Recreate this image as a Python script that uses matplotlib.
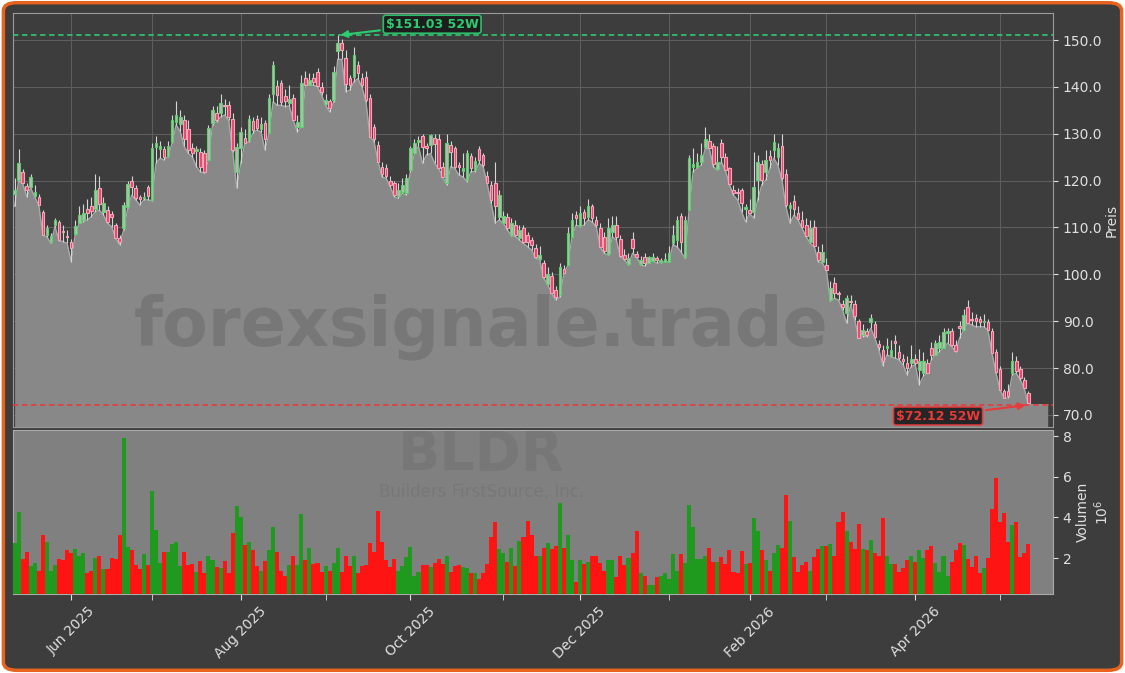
import numpy as np
import pandas as pd
import matplotlib
matplotlib.use('Agg')
import matplotlib.pyplot as plt
from matplotlib.patches import FancyBboxPatch
from matplotlib.ticker import FixedLocator, NullFormatter, FixedFormatter, FuncFormatter

# --- Daten: BLDR, Tageskerzen ---
start = '2025-05-12'
holidays = ['2025-05-26', '2025-06-19', '2025-07-04', '2025-09-01', '2025-11-27',
            '2025-12-25', '2026-01-01', '2026-01-19', '2026-02-16', '2026-04-03']

opens = [
    117.1, 120.1, 121.9, 118.9, 118.7, 116.7, 116.6, 113.3, 108.3, 106.8,
    110.5, 111.2, 109.3, 108.2, 107.0, 108.6, 111.0, 111.5, 114.0, 114.5,
    114.0, 118.5, 113.4, 113.7, 112.8, 110.5, 107.8, 109.9, 114.4, 119.9,
    118.4, 116.5, 116.2, 118.6, 115.9, 127.2, 126.8, 126.7, 125.2, 128.3,
    132.5, 132.0, 133.0, 131.0, 127.0, 126.3, 126.2, 125.8, 124.4, 132.4,
    134.5, 134.5, 136.2, 136.1, 133.1, 121.9, 126.9, 129.2, 128.7, 132.8,
    133.1, 131.0, 132.4, 130.2, 138.6, 140.2, 140.8, 138.0, 136.5, 137.6,
    131.5, 131.5, 142.0, 140.5, 142.0, 143.1, 140.0, 136.4, 137.0, 137.3,
    147.7, 149.4, 146.2, 142.0, 142.2, 144.8, 142.0, 142.2, 137.6, 131.4,
    127.6, 123.0, 122.8, 120.0, 119.4, 116.8, 117.5, 117.3, 122.3, 125.8,
    128.3, 129.5, 127.5, 127.6, 129.2, 128.9, 123.0, 119.4, 127.6, 127.0,
    123.4, 122.0, 120.1, 125.3, 122.3, 126.7, 125.5, 121.0, 119.1, 119.6,
    112.3, 111.0, 112.2, 108.5, 110.5, 107.7, 109.8, 108.4, 107.3, 105.6,
    103.2, 102.5, 98.0, 99.7, 96.7, 95.6, 101.1, 102.0, 108.0, 112.7,
    110.3, 113.4, 112.3, 114.5, 111.5, 109.8, 108.0, 104.3, 109.0, 110.5,
    107.5, 104.1, 102.2, 107.5, 104.3, 102.2, 103.6, 102.5, 102.9, 103.5,
    102.6, 102.7, 102.7, 106.6, 107.3, 112.5, 103.8, 113.7, 123.0, 123.0,
    124.0, 127.2, 128.5, 127.5, 122.5, 128.0, 125.1, 122.6, 118.1, 117.5,
    117.9, 114.0, 113.7, 113.4, 120.1, 123.5, 121.9, 125.3, 126.5, 125.0,
    127.5, 121.4, 114.1, 115.7, 113.0, 111.5, 110.5, 106.8, 110.2, 104.8,
    102.6, 102.0, 94.5, 98.1, 96.0, 93.7, 91.7, 94.2, 93.7, 90.1,
    87.1, 88.0, 89.9, 89.4, 85.1, 83.9, 84.2, 82.6, 85.7, 83.5,
    82.0, 81.0, 81.0, 82.0, 79.5, 79.0, 81.0, 84.2, 82.8, 84.2,
    84.2, 87.5, 87.8, 84.9, 89.0, 88.1, 93.0, 90.5, 90.6, 90.4,
    89.8, 89.9, 88.0, 83.5, 79.7, 75.0, 75.0, 78.9, 81.4, 79.7,
    77.5, 74.6]

highs = [
    120.5, 126.7, 122.5, 119.5, 121.5, 119.0, 117.2, 113.8, 110.5, 108.8,
    112.0, 111.6, 110.5, 109.5, 107.5, 111.5, 114.5, 115.0, 116.0, 116.5,
    121.5, 121.0, 116.5, 114.5, 113.5, 111.0, 108.5, 115.5, 120.0, 121.0,
    119.0, 117.0, 117.5, 119.0, 128.0, 129.5, 128.5, 127.5, 128.5, 134.0,
    137.0, 135.0, 134.0, 133.0, 128.0, 127.5, 127.0, 126.5, 131.8, 136.0,
    136.0, 138.5, 137.5, 137.0, 134.5, 128.0, 131.5, 131.0, 134.0, 133.5,
    134.0, 133.5, 133.0, 138.5, 145.5, 141.5, 141.5, 139.5, 140.5, 138.5,
    134.0, 142.5, 143.5, 143.0, 143.0, 144.0, 141.0, 138.5, 137.5, 144.5,
    151.03, 150.2, 148.0, 142.5, 148.5, 145.5, 143.0, 143.5, 138.5, 132.0,
    128.5, 124.0, 123.5, 121.0, 120.0, 119.5, 120.5, 121.5, 127.5, 129.0,
    129.5, 130.0, 128.0, 130.0, 130.0, 130.0, 124.0, 130.0, 128.5, 127.5,
    124.0, 126.0, 126.5, 126.0, 125.0, 127.5, 126.0, 122.0, 120.0, 124.0,
    118.0, 113.5, 113.0, 112.0, 111.5, 110.5, 110.5, 109.0, 108.0, 106.5,
    106.0, 103.0, 101.5, 100.5, 97.5, 102.5, 102.0, 110.0, 113.0, 113.5,
    114.5, 114.0, 116.0, 115.0, 112.5, 111.0, 109.0, 112.0, 112.5, 112.5,
    108.5, 105.5, 104.5, 109.0, 105.0, 104.0, 104.5, 104.0, 104.5, 104.0,
    103.5, 104.5, 106.0, 110.5, 112.5, 113.0, 112.5, 125.5, 127.0, 126.0,
    128.0, 131.5, 130.0, 128.0, 127.5, 129.0, 126.0, 123.0, 119.0, 118.5,
    118.5, 115.0, 116.0, 126.2, 125.5, 124.5, 126.5, 126.5, 130.0, 128.0,
    130.0, 122.5, 115.5, 117.0, 114.5, 113.5, 112.0, 111.5, 111.5, 106.0,
    106.5, 103.5, 98.5, 99.5, 96.5, 94.5, 95.5, 95.5, 94.5, 90.5,
    89.5, 88.5, 91.5, 90.0, 86.0, 85.0, 86.5, 86.0, 87.0, 85.0,
    83.0, 82.5, 85.0, 83.0, 84.0, 83.5, 82.0, 85.5, 86.0, 87.0,
    88.5, 88.5, 88.5, 86.0, 90.0, 92.5, 94.5, 92.0, 91.5, 91.0,
    91.5, 90.5, 88.5, 84.0, 80.5, 75.5, 76.5, 83.5, 82.5, 80.5,
    78.0, 75.0]

lows = [
    114.5, 120.0, 119.4, 116.6, 118.4, 116.5, 114.7, 108.3, 108.0, 106.6,
    110.2, 107.2, 107.0, 106.6, 102.7, 108.4, 110.9, 111.2, 111.6, 112.3,
    113.4, 113.7, 112.7, 110.9, 110.2, 107.8, 106.3, 109.5, 114.1, 116.9,
    115.9, 114.8, 115.9, 115.9, 115.7, 123.7, 124.8, 124.4, 125.1, 128.0,
    131.9, 130.5, 127.3, 125.8, 125.1, 123.0, 121.9, 121.6, 124.4, 131.9,
    132.6, 133.6, 134.0, 132.9, 126.2, 118.4, 123.7, 128.0, 128.3, 130.1,
    130.8, 130.4, 126.5, 130.1, 136.8, 136.1, 136.1, 135.8, 136.0, 132.9,
    130.4, 131.5, 140.4, 140.4, 140.4, 140.0, 138.3, 136.1, 134.7, 136.8,
    145.9, 145.9, 139.0, 139.3, 141.1, 141.8, 140.0, 136.8, 129.4, 128.3,
    124.0, 120.8, 120.5, 118.7, 116.6, 116.2, 117.3, 116.9, 121.9, 125.8,
    127.3, 123.7, 125.5, 125.8, 123.7, 122.6, 120.8, 119.1, 123.0, 122.6,
    121.2, 120.8, 119.8, 121.9, 121.9, 123.7, 123.0, 119.4, 115.2, 110.9,
    111.6, 110.9, 109.5, 108.2, 108.1, 107.3, 106.6, 105.9, 105.2, 103.4,
    103.1, 99.2, 97.7, 96.0, 94.5, 95.2, 100.2, 101.9, 108.0, 110.5,
    110.2, 110.5, 111.6, 111.2, 110.2, 105.9, 104.5, 104.1, 108.0, 107.3,
    103.8, 103.1, 102.0, 104.5, 103.8, 102.0, 101.8, 102.4, 102.9, 102.4,
    102.5, 102.7, 102.7, 106.3, 105.9, 104.8, 103.4, 113.7, 121.9, 122.6,
    123.3, 126.9, 126.9, 123.0, 122.3, 124.0, 122.2, 119.1, 116.9, 115.9,
    113.4, 111.2, 113.0, 112.0, 115.9, 119.1, 120.1, 122.6, 124.8, 123.3,
    120.1, 114.4, 110.9, 112.7, 111.6, 109.8, 108.0, 106.6, 105.9, 102.7,
    102.4, 100.9, 94.2, 94.9, 94.5, 92.4, 89.6, 93.5, 90.3, 86.4,
    86.7, 86.7, 88.5, 86.4, 83.9, 80.5, 82.8, 82.4, 82.1, 81.7,
    80.7, 78.5, 80.3, 80.7, 76.4, 78.2, 78.9, 81.7, 82.8, 83.5,
    84.2, 85.3, 84.6, 83.5, 86.4, 88.1, 89.6, 89.2, 88.8, 88.8,
    88.8, 88.1, 83.2, 78.9, 75.3, 73.6, 73.6, 78.5, 78.9, 77.5,
    75.7, 72.12]

closes = [
    118.0, 123.8, 119.6, 118.0, 120.8, 117.6, 114.8, 108.4, 109.9, 108.2,
    111.6, 107.3, 109.0, 108.0, 105.6, 110.3, 112.7, 113.0, 113.0, 113.5,
    118.0, 115.0, 115.2, 111.2, 112.2, 107.8, 106.8, 114.8, 119.3, 118.7,
    116.3, 116.0, 116.6, 116.7, 127.0, 128.0, 127.3, 125.0, 127.4, 133.0,
    134.0, 133.5, 129.0, 126.5, 126.0, 126.8, 123.0, 121.9, 131.2, 135.1,
    133.0, 136.5, 135.9, 133.5, 126.5, 127.2, 130.3, 128.1, 133.1, 130.8,
    131.2, 132.2, 128.8, 137.6, 144.7, 138.3, 136.8, 137.0, 137.5, 132.9,
    132.5, 140.8, 140.5, 141.5, 141.0, 140.2, 139.0, 137.3, 135.5, 143.2,
    149.3, 148.0, 140.6, 140.5, 146.8, 142.9, 140.4, 137.2, 129.4, 129.0,
    124.0, 121.5, 121.0, 119.0, 117.0, 118.0, 119.0, 120.5, 126.9, 128.0,
    128.6, 127.2, 126.9, 129.7, 127.8, 122.6, 120.8, 128.1, 126.2, 123.0,
    123.0, 122.8, 125.8, 122.6, 124.3, 124.4, 123.3, 119.5, 115.9, 114.5,
    117.0, 112.5, 109.8, 111.0, 108.5, 109.5, 107.0, 106.8, 106.3, 103.8,
    104.2, 99.4, 100.0, 96.0, 95.1, 101.5, 100.3, 108.9, 111.7, 112.0,
    113.2, 112.0, 114.6, 112.0, 110.5, 105.9, 105.0, 109.8, 110.5, 108.0,
    104.0, 103.2, 103.4, 105.6, 103.8, 103.0, 102.5, 103.6, 103.7, 103.0,
    103.0, 103.3, 104.6, 108.4, 111.5, 107.0, 111.5, 124.8, 123.5, 124.0,
    125.5, 128.8, 127.0, 123.5, 124.0, 125.1, 122.3, 119.3, 117.3, 117.3,
    115.2, 114.4, 113.2, 118.6, 124.0, 120.1, 124.5, 124.4, 128.3, 126.9,
    120.5, 114.8, 114.7, 113.9, 111.8, 110.0, 108.2, 109.8, 106.0, 103.0,
    104.8, 101.0, 97.0, 96.0, 95.7, 93.1, 94.9, 94.0, 91.0, 86.5,
    88.1, 87.0, 90.6, 86.6, 84.4, 81.4, 84.8, 83.9, 85.4, 82.1,
    81.5, 80.0, 82.0, 81.0, 81.5, 81.5, 78.9, 82.8, 85.3, 85.6,
    87.6, 87.8, 84.9, 83.7, 88.5, 91.3, 89.7, 90.2, 90.0, 89.8,
    90.0, 88.1, 83.3, 79.2, 75.3, 73.6, 74.0, 81.4, 79.3, 77.9,
    75.7, 72.5]

# Volumen in Mio. Stueck
volume = [
    2.76, 4.28, 1.95, 2.29, 1.61, 1.78, 1.39, 3.13, 2.8, 1.39,
    1.64, 1.95, 1.9, 2.4, 2.25, 2.45, 2.12, 2.25, 1.28, 1.39,
    2.0, 2.1, 1.44, 1.44, 2.0, 1.95, 3.13, 7.89, 2.56, 2.4,
    1.64, 1.44, 2.2, 1.64, 5.29, 3.37, 1.75, 2.29, 2.29, 2.71,
    2.8, 1.61, 2.29, 1.64, 1.7, 1.33, 1.85, 1.25, 2.11, 1.9,
    1.58, 1.5, 1.85, 1.25, 3.22, 4.58, 4.0, 2.66, 2.8, 2.4,
    1.61, 1.39, 1.85, 2.4, 3.51, 2.29, 1.39, 1.12, 1.64, 2.1,
    1.64, 4.17, 1.9, 2.5, 1.7, 1.78, 1.33, 1.6, 1.39, 1.75,
    2.5, 1.34, 2.1, 1.6, 2.1, 1.25, 1.61, 1.64, 2.76, 2.29,
    4.34, 2.8, 1.9, 1.56, 1.95, 1.39, 1.61, 2.05, 2.56, 1.14,
    1.34, 1.64, 1.64, 1.56, 1.75, 1.95, 1.7, 2.1, 1.34, 1.6,
    1.64, 1.56, 1.5, 1.25, 1.25, 0.95, 1.25, 1.7, 3.05, 3.76,
    2.45, 2.23, 1.82, 2.5, 1.61, 2.84, 3.06, 3.82, 3.16, 2.1,
    2.1, 2.5, 2.76, 2.45, 2.61, 4.73, 2.5, 3.16, 1.9, 0.84,
    1.9, 1.7, 1.8, 2.1, 2.1, 1.75, 1.39, 1.9, 1.9, 1.05,
    2.1, 1.64, 2.0, 2.25, 3.33, 1.25, 1.1, 0.66, 0.7, 1.05,
    1.14, 1.25, 0.95, 2.2, 1.39, 2.2, 1.75, 4.63, 3.51, 1.95,
    1.95, 2.1, 2.5, 1.83, 1.83, 2.05, 1.7, 2.4, 1.34, 1.25,
    2.35, 1.7, 1.75, 3.97, 3.32, 2.4, 1.9, 1.39, 2.25, 2.66,
    2.5, 5.08, 3.82, 2.05, 1.34, 1.64, 1.83, 1.39, 2.05, 2.45,
    2.61, 2.61, 2.71, 2.1, 3.77, 4.28, 3.32, 2.81, 2.45, 3.67,
    2.45, 2.4, 2.91, 2.25, 2.1, 3.97, 2.1, 1.7, 1.7, 1.3,
    1.5, 1.9, 2.1, 1.8, 2.4, 2.0, 2.4, 2.61, 1.75, 1.34,
    2.1, 1.14, 1.8, 2.4, 2.76, 2.66, 1.95, 1.55, 2.1, 1.25,
    1.5, 2.0, 4.43, 5.95, 3.77, 4.23, 2.81, 3.62, 3.77, 2.05,
    2.25, 2.71]

o = np.array(opens)
h = np.array(highs)
l = np.array(lows)
c = np.array(closes)
n = len(c)
idx = np.arange(n)
dates = pd.bdate_range(start, periods=n, freq='C', holidays=holidays)

hi52 = h.max()
lo52 = l.min()
i_hi = int(h.argmax())
i_lo = int(l.argmin())

BG = '#3d3d3d'
up = c >= o

fig = plt.figure(figsize=(11.25, 6.73), dpi=100, facecolor='white')
frame = FancyBboxPatch((0.003, 0.004), 0.994, 0.992, boxstyle='round,pad=0,rounding_size=0.012',
                       transform=fig.transFigure, facecolor=BG, edgecolor='#e8641e', lw=2.5, zorder=-10)
fig.add_artist(frame)

ax = fig.add_axes([0.01156, 0.3655, 0.9244, 0.6152])
vax = fig.add_axes([0.01156, 0.1174, 0.9244, 0.2437], sharex=ax)

# --- Kurs ---
ax.set_facecolor(BG)
xf = np.append(idx, n - 1 + 4.8)
lf = np.append(l, l[-1])
ax.fill_between(xf, lf, 60, color='#888888', zorder=2, lw=0)
ax.plot(xf, lf, color='#a9a9a9', lw=1.0, zorder=2.5)

ax.vlines(idx, l, h, color='#d5d5d5', lw=0.8, zorder=3)
ax.bar(idx, np.abs(c - o), bottom=np.minimum(o, c), width=0.65,
       color=np.where(up, '#b8b8b8', '#e8456c'),
       edgecolor=np.where(up, '#5ccf6c', '#f2a6b8'), lw=0.8, zorder=4)

ax.axhline(hi52, color='#2ecc71', lw=1.3, dashes=(3, 2), alpha=0.9, zorder=5)
ax.axhline(lo52, color='#e83a3a', lw=1.3, dashes=(3, 2), alpha=0.9, zorder=5)

ax.annotate('\\$%.2f 52W' % hi52, xy=(i_hi, hi52), xytext=(68, 8), textcoords='offset points',
            ha='center', va='center', fontsize=9, fontweight='bold', color='#2ecc71',
            bbox=dict(boxstyle='round,pad=0.2', fc='#1a1a1a', ec='#2ecc71', lw=1.2, alpha=0.9),
            arrowprops=dict(arrowstyle='-|>', color='#2ecc71', lw=1.5, mutation_scale=10), zorder=6)
ax.annotate('\\$%.2f 52W' % lo52, xy=(i_lo, lo52), xytext=(-65, -8), textcoords='offset points',
            ha='center', va='center', fontsize=9, fontweight='bold', color='#e83a3a',
            bbox=dict(boxstyle='round,pad=0.2', fc='#1a1a1a', ec='#e83a3a', lw=1.2, alpha=0.9),
            arrowprops=dict(arrowstyle='-|>', color='#e83a3a', lw=1.5, mutation_scale=10), zorder=6)

ax.text(0.4505, 0.2415, 'forexsignale.trade', transform=ax.transAxes, ha='center', va='center',
        fontsize=48, fontweight='bold', color=BG, alpha=0.22, zorder=4.5)

ax.set_ylim(67.4, 155.8)
ax.set_xlim(-0.4, 257.1)
ax.set_yticks(np.arange(70, 151, 10))
ax.yaxis.set_major_formatter(FuncFormatter(lambda v, p: '%.1f' % v))
ax.yaxis.tick_right()
ax.yaxis.set_label_position('right')
ax.set_ylabel('Preis', color='#e0e0e0', fontsize=10, labelpad=2)
ax.grid(True, which='both', color='#5e5e5e', lw=0.8)
ax.tick_params(axis='y', colors='#e0e0e0', labelsize=10)
ax.tick_params(axis='x', which='both', bottom=False, labelbottom=False)
for s in ax.spines.values():
    s.set_color('#9a9a9a')

# --- Volumen ---
vax.set_facecolor('#808080')
vax.bar(idx, volume, width=1.0, color=np.where(up, '#1f9a1f', '#ff1414'), lw=0, zorder=3)
vax.text(0.4505, 0.85, 'BLDR', transform=vax.transAxes, ha='center', va='center',
         fontsize=40, fontweight='bold', color=BG, alpha=0.12, zorder=1)
vax.text(0.4505, 0.62, 'Builders FirstSource, Inc.', transform=vax.transAxes, ha='center', va='center',
         fontsize=12, color=BG, alpha=0.12, zorder=1)
vax.set_ylim(0.235, 8.3)
vax.set_yticks([2, 4, 6, 8])
vax.yaxis.tick_right()
vax.yaxis.set_label_position('right')
vax.set_ylabel('Volumen\n$10^{6}$', color='#e0e0e0', fontsize=10, labelpad=3)
vax.tick_params(axis='y', colors='#e0e0e0', labelsize=10)
for s in vax.spines.values():
    s.set_color('#aaaaaa')

# Monatsticks: erster Handelstag jedes Monats
mon = pd.Series(dates.month)
firsts = np.flatnonzero((mon != mon.shift()).values)[1:]
major = [i for i in firsts if dates[i].month % 2 == 0]
minor = [i for i in firsts if dates[i].month % 2 == 1]
vax.xaxis.set_major_locator(FixedLocator(major))
vax.xaxis.set_major_formatter(FixedFormatter([dates[i].strftime('%b %Y') for i in major]))
vax.xaxis.set_minor_locator(FixedLocator(minor))
vax.xaxis.set_minor_formatter(NullFormatter())
vax.tick_params(axis='x', which='both', colors='#e0e0e0', labelsize=10, length=4)
plt.setp(vax.get_xticklabels(), rotation=45, ha='center')

fig.savefig('out.png', dpi=100, facecolor=fig.get_facecolor())
